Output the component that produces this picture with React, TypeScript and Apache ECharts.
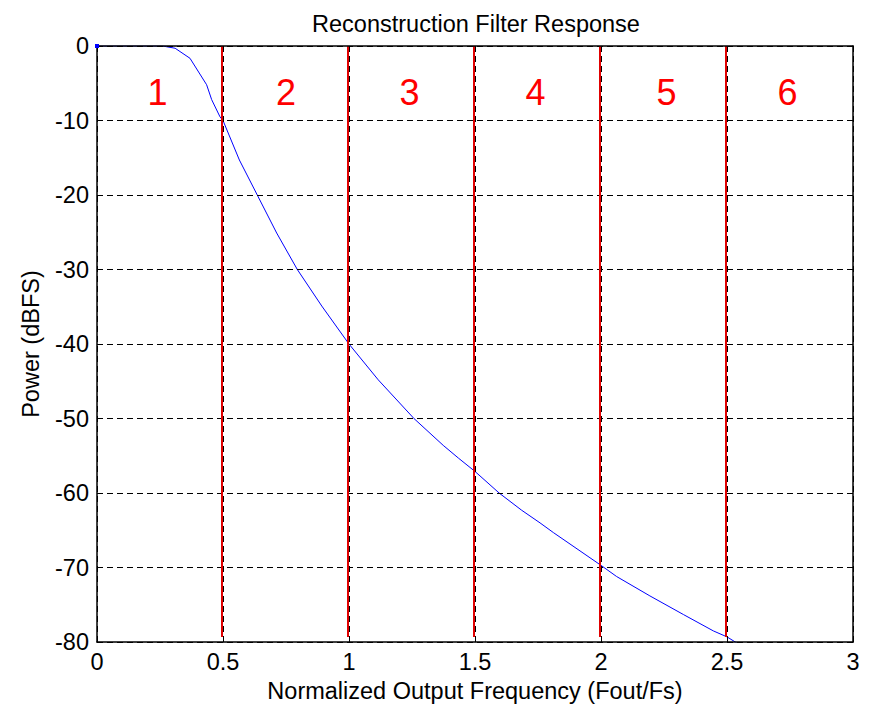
import React, { useEffect, useRef } from "react";
import * as echarts from "echarts";

const freq = [0, 0.26, 0.31, 0.369, 0.435, 0.455, 0.488, 0.5, 0.565, 0.636, 0.713, 0.795, 0.892, 1.0, 1.116, 1.258, 1.374, 1.434, 1.5, 1.596, 1.685, 1.758, 1.811, 2.0, 2.062, 2.194, 2.327, 2.446, 2.5, 2.548];
const power = [0, 0, -0.3, -1.65, -5.2, -7.2, -9.5, -10, -15.3, -20, -25.1, -30, -34.9, -40, -44.8, -50, -53.6, -55.3, -57.1, -60, -62.3, -64, -65.3, -69.7, -71.2, -73.8, -76.3, -78.5, -79.3, -80.3];

const boundaries = [0.5, 1, 1.5, 2, 2.5];
const boundaryTop = 0;
const boundaryBottom = -79.3;

const regionNames = ["1", "2", "3", "4", "5", "6"];
const regionX = [0.24, 0.75, 1.24, 1.74, 2.26, 2.74];
const regionY = -6.3;

const FONT = "Liberation Sans, Arial, sans-serif";
const FS = 23.5;

export default function App() {
  const ref = useRef<HTMLDivElement>(null);
  useEffect(() => {
    if (!ref.current) return;
    const chart = echarts.init(ref.current, undefined, { renderer: "svg" });
    const tickStyle = { show: true, inside: true, length: 6, lineStyle: { color: "#000", width: 1 } };
    const hidden = { show: false };
    chart.setOption({
      animation: false,
      backgroundColor: "#fff",
      title: {
        text: "Reconstruction Filter Response",
        left: 471,
        top: 7,
        textAlign: "center",
        textStyle: { fontFamily: FONT, fontSize: FS, fontWeight: "normal", color: "#000" },
      },
      grid: { left: 97, top: 46, right: 24, bottom: 65, containLabel: false },
      xAxis: [
        {
          type: "value",
          min: 0,
          max: 3,
          interval: 0.5,
          position: "bottom",
          z: 5,
          name: "Normalized Output Frequency (Fout/Fs)",
          nameLocation: "middle",
          nameGap: 35,
          nameTextStyle: { fontFamily: FONT, fontSize: FS, color: "#000" },
          axisLine: { show: true, onZero: false, lineStyle: { color: "#000", width: 1.5 } },
          axisTick: tickStyle,
          axisLabel: { fontFamily: FONT, fontSize: FS, color: "#000", margin: 8 },
          splitLine: { show: true, lineStyle: { color: "#000", width: 1, type: [6, 4] } },
        },
        {
          type: "value",
          min: 0,
          max: 3,
          interval: 0.5,
          position: "top",
          z: 5,
          axisLine: { show: true, onZero: false, lineStyle: { color: "#000", width: 1.5 } },
          axisTick: tickStyle,
          axisLabel: hidden,
          splitLine: hidden,
        },
      ],
      yAxis: [
        {
          type: "value",
          min: -80,
          max: 0,
          interval: 10,
          position: "left",
          z: 5,
          name: "Power (dBFS)",
          nameLocation: "middle",
          nameGap: 54,
          nameTextStyle: { fontFamily: FONT, fontSize: FS, color: "#000" },
          axisLine: { show: true, onZero: false, lineStyle: { color: "#000", width: 1.5 } },
          axisTick: tickStyle,
          axisLabel: { fontFamily: FONT, fontSize: FS, color: "#000", margin: 8 },
          splitLine: { show: true, lineStyle: { color: "#000", width: 1, type: [6, 4] } },
        },
        {
          type: "value",
          min: -80,
          max: 0,
          interval: 10,
          position: "right",
          z: 5,
          axisLine: { show: true, onZero: false, lineStyle: { color: "#000", width: 1.5 } },
          axisTick: tickStyle,
          axisLabel: hidden,
          splitLine: hidden,
        },
      ],
      series: [
        {
          type: "line",
          data: boundaries.map((b) => [b, boundaryTop]),
          showSymbol: false,
          lineStyle: { opacity: 0 },
          silent: true,
          z: 2,
          markLine: {
            silent: true,
            symbol: ["none", "none"],
            label: { show: false },
            lineStyle: { color: "#e00000", width: 2, type: "solid" },
            data: boundaries.map((b) => [
              { coord: [b - 0.004, boundaryTop] },
              { coord: [b - 0.004, boundaryBottom] },
            ]),
          },
        },
        {
          type: "line",
          data: freq.map((f, i) => [f, power[i]]),
          showSymbol: false,
          clip: true,
          lineStyle: { color: "#0000ff", width: 1 },
          z: 3,
        },
        {
          type: "scatter",
          data: [[freq[0], power[0]]],
          symbol: "rect",
          symbolSize: 4,
          itemStyle: { color: "#0000ff", opacity: 1 },
          z: 6,
          clip: false,
        },
        {
          type: "scatter",
          data: regionNames.map((n, i) => ({ name: n, value: [regionX[i], regionY] })),
          symbolSize: 1,
          itemStyle: { color: "rgba(0,0,0,0)", opacity: 1 },
          label: {
            show: true,
            position: "inside",
            formatter: (p: any) => p.name,
            fontFamily: FONT,
            fontSize: 36,
            color: "#ff0000",
            opacity: 1,
          },
          z: 4,
        },
      ],
    });
    return () => chart.dispose();
  }, []);
  return <div ref={ref} style={{ position: "absolute", left: 0, top: 0, width: 877, height: 708 }} />;
}
